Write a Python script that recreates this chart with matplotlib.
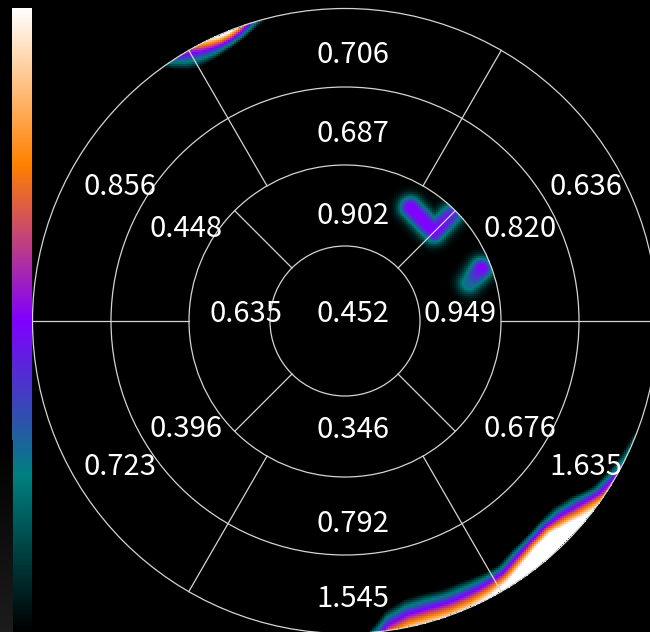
import numpy as np
import matplotlib
matplotlib.use("Agg")
import matplotlib.pyplot as plt
from matplotlib.patches import Circle
from matplotlib.colors import LinearSegmentedColormap

# segment values of the bullseye
apex_value = 0.452
apical_angles = [0, 90, 180, 270]
apical_values = [0.949, 0.902, 0.635, 0.346]
ring_angles = [30, 90, 150, 210, 270, 330]
mid_values = [0.820, 0.687, 0.448, 0.396, 0.792, 0.676]
basal_values = [0.636, 0.706, 0.856, 0.723, 1.545, 1.635]

# hot spots along the outer rim: angle (deg), radius where colour starts, radius where it saturates
rim_a_angle = [104, 106, 108, 110, 112, 114, 116, 118, 120, 122, 124, 126]
rim_a_start = [313, 308, 303, 299, 296, 294, 292, 292, 292, 296, 303, 313]
rim_a_full = [340, 330, 320, 314, 311, 311, 314, 318, 326, 332, 340, 350]

rim_b_angle = [-86, -82, -78, -74, -70, -66, -62, -58, -54, -50, -46, -42, -38, -34, -30, -26, -22, -18]
rim_b_start = [313, 292, 284, 283, 285, 285, 287, 288, 283, 281, 279, 279, 285, 297, 302, 306, 309, 314]
rim_b_full = [345, 322, 316, 315, 315, 314, 311, 307, 301, 296, 295, 302, 311, 318, 322, 330, 330, 360]

# small spots inside the apical ring: path vertices (angle deg, radius), level at each vertex
spot_v_path = [(60, 131), (45, 126), (45, 150)]
spot_v_peaks = [0.50, 0.50, 0.42]
spot_a_path = [(17, 130), (21, 146)]
spot_a_peaks = [0.30, 0.50]

ring_edges = [75, 156, 234, 312.5]

cmap = LinearSegmentedColormap.from_list(
    "uptake", [(0, "#000000"), (0.25, "#008080"), (0.5, "#8000ff"),
               (0.75, "#ff8000"), (1.0, "#ffffff")])

fig = plt.figure(figsize=(6.5, 6.32), dpi=100, facecolor="black")
ax = fig.add_axes([0, 0, 1, 1])
ax.set_facecolor("black")
xmin, xmax, ymin, ymax = -345, 305, -311, 321
ax.set_xlim(xmin, xmax)
ax.set_ylim(ymin, ymax)
ax.axis("off")

# heat field
step = 2
xs = np.arange(xmin, xmax, step) + step / 2
ys = np.arange(ymin, ymax, step) + step / 2
X, Y = np.meshgrid(xs, ys)
rr = np.hypot(X, Y)
th = np.degrees(np.arctan2(Y, X))


def rim_band(angles, start, full):
    s = np.interp(th, angles, start)
    f = np.interp(th, angles, full)
    v = np.clip((rr - s) / (f - s), 0, 1)
    v[(th < angles[0]) | (th > angles[-1])] = 0
    v[rr > ring_edges[-1]] = 0
    return v


def spot(path, peaks, core=2.0, sigma=7.0):
    pts = [(r * np.cos(np.radians(a)), r * np.sin(np.radians(a))) for a, r in path]
    v = np.zeros(X.shape)
    for i in range(len(pts) - 1):
        (x0, y0), (x1, y1) = pts[i], pts[i + 1]
        dx, dy = x1 - x0, y1 - y0
        t = np.clip(((X - x0) * dx + (Y - y0) * dy) / (dx * dx + dy * dy), 0, 1)
        d = np.maximum(np.hypot(X - x0 - t * dx, Y - y0 - t * dy) - core, 0)
        p = peaks[i] + t * (peaks[i + 1] - peaks[i])
        v = np.maximum(v, p * np.exp(-d ** 2 / (2 * sigma ** 2)))
    v[rr > ring_edges[1]] = 0
    return v


field = np.maximum.reduce([
    rim_band(rim_a_angle, rim_a_start, rim_a_full),
    rim_band(rim_b_angle, rim_b_start, rim_b_full),
    spot(spot_v_path, spot_v_peaks),
    spot(spot_a_path, spot_a_peaks),
])
ax.imshow(field, extent=(xmin, xmax, ymin, ymax), origin="lower", cmap=cmap,
          vmin=0, vmax=1, interpolation="nearest", zorder=1)

# grid of the bullseye
line_kw = dict(color="#d4d4d4", lw=0.9, zorder=3)
for r in ring_edges:
    ax.add_patch(Circle((0, 0), r, fill=False, ec="#d4d4d4", lw=0.9, zorder=3))
for a in [45, 135, 225, 315]:
    c, s = np.cos(np.radians(a)), np.sin(np.radians(a))
    ax.plot([ring_edges[0] * c, ring_edges[1] * c], [ring_edges[0] * s, ring_edges[1] * s], **line_kw)
for a in range(0, 360, 60):
    c, s = np.cos(np.radians(a)), np.sin(np.radians(a))
    ax.plot([ring_edges[1] * c, ring_edges[3] * c], [ring_edges[1] * s, ring_edges[3] * s], **line_kw)

# labels
txt_kw = dict(color="white", fontsize=21, family=["Noto Sans CJK JP", "DejaVu Sans"],
              ha="center", va="baseline", zorder=4)
ax.text(8, -0.5, f"{apex_value:.3f}", **txt_kw)
for a, v in zip(apical_angles, apical_values):
    x = 107.5 * np.cos(np.radians(a)) + 8
    y = 107.5 * np.sin(np.radians(a)) - 10
    if a % 180 == 0:
        y += 9.5
    ax.text(x, y, f"{v:.3f}", **txt_kw)
for vals, r, dy in [(mid_values, 195, -16), (basal_values, 272, -14)]:
    for a, v in zip(ring_angles, vals):
        la = a if a % 180 == 90 else a + (1 if a % 180 < 90 else -1)
        x = r * np.cos(np.radians(la)) + 8
        y = r * np.sin(np.radians(la)) + dy
        ax.text(x, y, f"{v:.3f}", **txt_kw)

# colour bar on the left
cax = fig.add_axes([12 / 650, 0, 20 / 650, 624 / 632])
cax.imshow(np.linspace(0, 1, 256)[:, None], aspect="auto", cmap=cmap, origin="lower")
cax.axis("off")

# faint grey shade at bottom-left corner
gax = fig.add_axes([0, 0, 12 / 650, 192 / 632])
gax.imshow(np.linspace(0.11, 0, 64)[:, None], aspect="auto", cmap="gray",
           vmin=0, vmax=1, origin="lower")
gax.axis("off")

fig.savefig("out.png", dpi=100, facecolor="black")
